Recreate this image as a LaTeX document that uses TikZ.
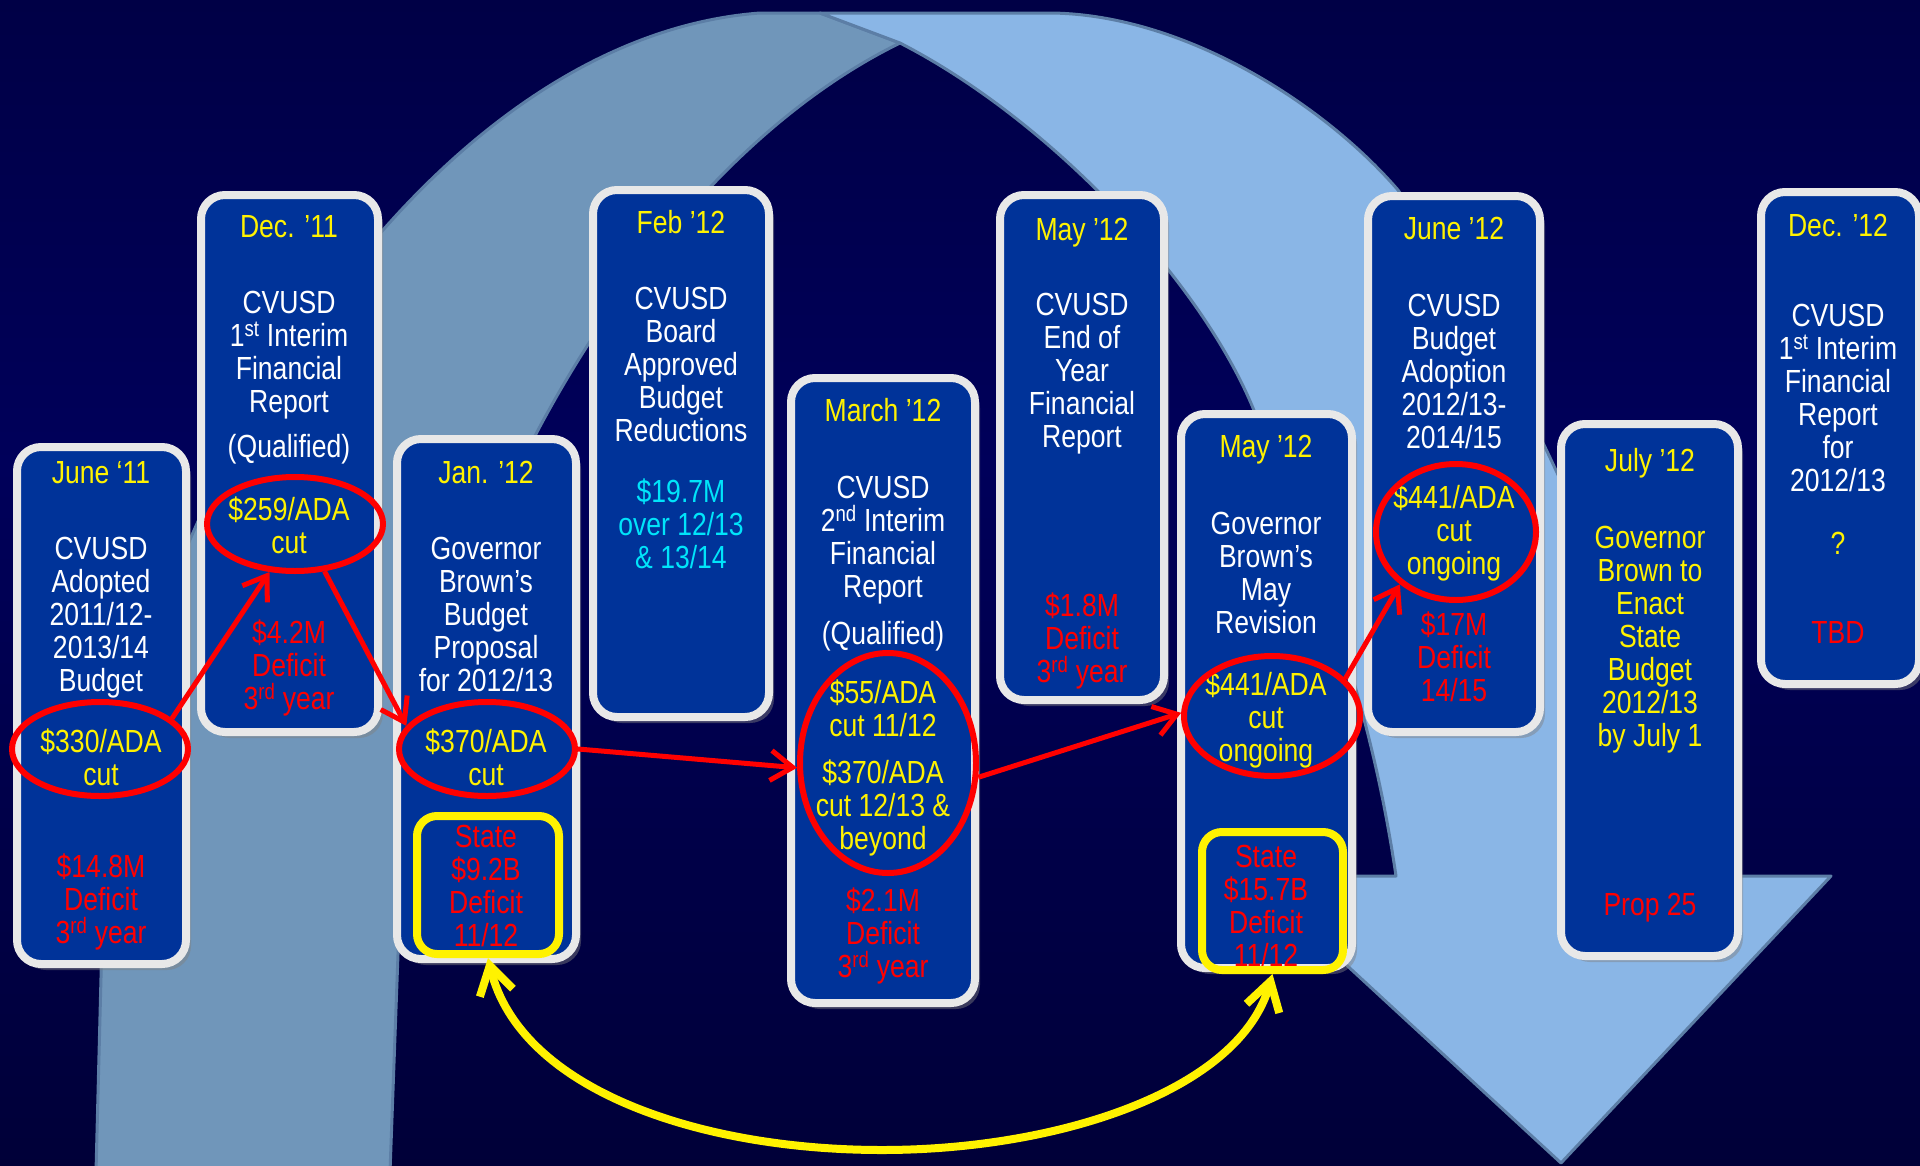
\documentclass[tikz,border=0pt]{standalone}
\usepackage{fontspec}
\setmainfont{Liberation Sans}[FakeStretch=0.83]
\usetikzlibrary{arrows.meta,shapes.geometric,shadows}
\definecolor{bgtop}{RGB}{0,0,45}
\definecolor{bgmid}{RGB}{0,0,90}
\definecolor{bgbot}{RGB}{0,0,28}
\definecolor{boxblue}{RGB}{0,51,153}
\definecolor{boxrim}{RGB}{232,232,232}
\definecolor{ribdark}{RGB}{112,150,186}
\definecolor{riblight}{RGB}{138,182,230}
\definecolor{ribline}{RGB}{92,126,166}
\definecolor{cyantxt}{RGB}{0,228,250}
\pgfdeclareverticalshading{bgshade}{100bp}{color(0bp)=(bgbot); color(55bp)=(bgmid); color(100bp)=(bgtop)}
\newcommand\fz{\fontsize{32pt}{33pt}\selectfont}
\newcommand\sps[1]{\textsuperscript{#1}}
\begin{document}
\begin{tikzpicture}[x=1pt,y=-1pt,
  evbox/.style={draw=boxrim, fill=boxblue, line width=8pt, rounded corners=24pt, rectangle, inner sep=0pt,
    drop shadow={shadow xshift=5pt, shadow yshift=-6pt, opacity=0.45}},
  ybox/.style={draw=yellow, line width=8pt, rounded corners=20pt, rectangle, inner sep=0pt},
  redell/.style={draw=red, line width=6pt, ellipse, inner sep=0pt},
  txt/.style={font=\fz, align=center, anchor=base, inner sep=0pt},
  wht/.style={txt, text=white},
  ylw/.style={txt, text=yellow},
  rd/.style={txt, text=red},
  cyn/.style={txt, text=cyantxt},
  redarr/.style={draw=red, line width=5pt, -{Straight Barb[length=22pt,width=30pt]}},
  yelarr/.style={draw=yellow, line width=8pt, {Straight Barb[length=28pt,width=34pt]}-{Straight Barb[length=28pt,width=34pt]}}
]
\useasboundingbox (0,0) rectangle (1920,1165);
\shade[shading=bgshade] (0,0) rectangle (1920,1165);
\begin{scope}
\clip (0,0) rectangle (1920,1165);
% ribbon arrow
\fill[ribdark, draw=ribline, line width=3pt, line join=round] (96,1172) -- (103,900) .. controls (110,560) and (400,40) .. (760,13) -- (820,13) -- (900,43) .. controls (620,180) and (410,600) .. (400,900) -- (390,1172) -- cycle;
\fill[riblight, draw=ribline, line width=3pt, line join=round] (820,13) -- (1050,13) .. controls (1180,14) and (1320,100) .. (1398,190) .. controls (1500,340) and (1640,600) .. (1686,876) -- (1831,876) -- (1561,1163) -- (1250,876) -- (1396,876) .. controls (1370,700) and (1320,570) .. (1253,408) .. controls (1200,280) and (1050,120) .. (900,43) -- cycle;
\end{scope}
% boxes
\node[evbox, minimum width=169, minimum height=517] (b1) at (101.5,705.5) {};
\node[evbox, minimum width=177, minimum height=537] (b2) at (289.5,463.5) {};
\node[evbox, minimum width=179, minimum height=520] (b3) at (486.5,699) {};
\node[evbox, minimum width=176, minimum height=527] (b4) at (681,453.5) {};
\node[evbox, minimum width=184, minimum height=625] (b5) at (883,690.5) {};
\node[evbox, minimum width=164, minimum height=505] (b6) at (1082,447.5) {};
\node[evbox, minimum width=171, minimum height=554] (b7) at (1266.5,691) {};
\node[evbox, minimum width=172, minimum height=536] (b8) at (1454,464) {};
\node[evbox, minimum width=177, minimum height=532] (b9) at (1649.5,690) {};
\node[evbox, minimum width=158, minimum height=492] (b10) at (1840,438) {};
% box 1 (anchor = baseline of last line)
\node[ylw] (t1a) at (101,483) {June ‘11};
\node[wht] (t1b) at (101,691) {CVUSD\\Adopted\\2011/12-\\2013/14\\Budget};
\node[ylw] (t1c) at (101,785) {\$330/ADA\\cut};
\node[rd] (t1d) at (101,943) {\$14.8M\\Deficit\\3\sps{rd} year};
% box 2
\node[ylw] (t2a) at (289,237) {Dec. ’11};
\node[wht] (t2b) at (289,412) {CVUSD\\1\sps{st} Interim\\Financial\\Report};
\node[wht] (t2c) at (289,457) {(Qualified)};
\node[ylw] (t2d) at (289,553) {\$259/ADA\\cut};
\node[rd] (t2e) at (289,709) {\$4.2M\\Deficit\\3\sps{rd} year};
% box 3
\node[ylw] (t3a) at (486,483) {Jan. ’12};
\node[wht] (t3b) at (486,691) {Governor\\Brown’s\\Budget\\Proposal\\for 2012/13};
\node[ylw] (t3c) at (486,785) {\$370/ADA\\cut};
\node[rd] (t3d) at (486,946) {State\\\$9.2B\\Deficit\\11/12};
% box 4
\node[ylw] (t4a) at (681,233) {Feb ’12};
\node[wht] (t4b) at (681,441) {CVUSD\\Board\\Approved\\Budget\\Reductions};
\node[cyn] (t4c) at (681,568) {\$19.7M\\over 12/13\\\& 13/14};
% box 5
\node[ylw] (t5a) at (883,421) {March ’12};
\node[wht] (t5b) at (883,597) {CVUSD\\2\sps{nd} Interim\\Financial\\Report};
\node[wht] (t5c) at (883,644) {(Qualified)};
\node[ylw] (t5d) at (883,736) {\$55/ADA\\cut 11/12};
\node[ylw] (t5e) at (883,849) {\$370/ADA\\cut 12/13 \&\\beyond};
\node[rd] (t5f) at (883,977) {\$2.1M\\Deficit\\3\sps{rd} year};
% box 6
\node[ylw] (t6a) at (1082,240) {May ’12};
\node[wht] (t6b) at (1082,447) {CVUSD\\End of\\Year\\Financial\\Report};
\node[rd] (t6c) at (1082,682) {\$1.8M\\Deficit\\3\sps{rd} year};
% box 7
\node[ylw] (t7a) at (1266,457) {May ’12};
\node[wht] (t7b) at (1266,633) {Governor\\Brown’s\\May\\Revision};
\node[ylw] (t7c) at (1266,761) {\$441/ADA\\cut\\ongoing};
\node[rd] (t7d) at (1266,966) {State\\\$15.7B\\Deficit\\11/12};
% box 8
\node[ylw] (t8a) at (1454,239) {June ’12};
\node[wht] (t8b) at (1454,448) {CVUSD\\Budget\\Adoption\\2012/13-\\2014/15};
\node[ylw] (t8c) at (1454,574) {\$441/ADA\\cut\\ongoing};
\node[rd] (t8d) at (1454,701) {\$17M\\Deficit\\14/15};
% box 9
\node[ylw] (t9a) at (1650,471) {July ’12};
\node[ylw] (t9b) at (1650,746) {Governor\\Brown to\\Enact\\State\\Budget\\2012/13\\by July 1};
\node[rd] (t9c) at (1650,915) {Prop 25};
% box 10
\node[ylw] (t10a) at (1838,236) {Dec. ’12};
\node[wht] (t10b) at (1838,491) {CVUSD\\1\sps{st} Interim\\Financial\\Report\\for\\2012/13};
\node[ylw] (t10c) at (1838,554) {?};
\node[rd] (t10d) at (1838,643) {TBD};
% ellipses
\node[redell, minimum width=176, minimum height=94] (e1) at (100,749) {};
\node[redell, minimum width=176, minimum height=94] (e2) at (295,524) {};
\node[redell, minimum width=176, minimum height=94] (e3) at (487,749) {};
\node[redell, minimum width=176, minimum height=220] (e5) at (888,763) {};
\node[redell, minimum width=176, minimum height=120] (e7) at (1272,716) {};
\node[redell, minimum width=160, minimum height=136] (e8) at (1456,532) {};
% yellow boxes
\node[ybox, minimum width=142, minimum height=138] (y3) at (488,885) {};
\node[ybox, minimum width=141, minimum height=138] (y7) at (1272.5,901) {};
% red connectors
\draw[redarr] (e1.23) -- (e2.-118);
\draw[redarr] (e2.-58) -- (e3.164);
\draw[redarr] (e3.0) -- (e5.183);
\draw[redarr] (e5.-9) -- (e7.178);
\draw[redarr] (e7.27) -- (e8.223);
% yellow connector
\coordinate (ylow) at (882,1150);
\draw[yelarr] (y3.south) .. controls (520,1090) and (700,1150) .. (ylow) .. controls (1060,1150) and (1240,1090) .. (y7.south);
\end{tikzpicture}
\end{document}
